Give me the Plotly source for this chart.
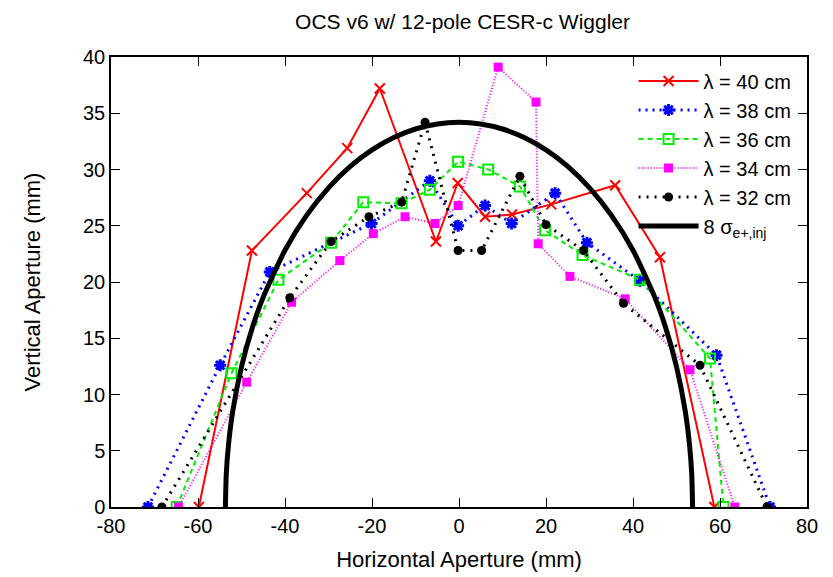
import plotly.graph_objects as go

# ---- data ----
x40 = [-59.8, -47.6, -35.0, -25.7, -18.2, -5.3, -0.3, 6.0, 12.2, 21.2, 35.9, 46.2, 58.7]
y40 = [0.0, 22.8, 27.9, 31.9, 37.2, 23.6, 28.8, 25.8, 26.0, 26.9, 28.6, 22.2, 0.0]

x38 = [-71.5, -54.9, -43.5, -20.1, -6.7, -0.2, 6.0, 12.1, 22.1, 29.4, 41.6, 59.2, 71.5]
y38 = [0.0, 12.6, 20.9, 25.2, 29.0, 25.0, 26.8, 25.2, 27.9, 23.5, 20.1, 13.5, 0.0]

x36 = [-64.9, -52.3, -41.5, -29.4, -22.0, -13.2, -6.7, -0.2, 6.7, 14.0, 19.8, 28.4, 41.6, 57.7, 60.8]
y36 = [0.0, 11.9, 20.2, 23.5, 27.1, 27.0, 28.2, 30.7, 30.0, 28.5, 24.6, 22.4, 20.2, 13.2, 0.0]

x34 = [-64.5, -48.8, -38.5, -27.4, -19.7, -12.4, -5.5, -0.2, 9.0, 17.7, 18.2, 25.5, 38.2, 53.1, 63.4]
y34 = [0.0, 11.1, 18.2, 21.9, 24.3, 25.8, 25.2, 26.8, 39.1, 36.0, 23.4, 20.5, 18.5, 12.2, 0.0]

x32 = [-68.3, -38.9, -29.4, -20.7, -13.2, -7.8, -0.2, 5.2, 14.0, 20.0, 28.6, 37.8, 55.4, 70.8]
y32 = [0.0, 18.6, 23.6, 25.8, 27.1, 34.2, 22.8, 22.8, 29.4, 25.1, 22.8, 18.1, 12.6, 0.0]

# 8 sigma injected beam envelope
xs = [-53.7, -53.5, -53.0, -52.0, -50.0, -47.5, -45.0, -40.0, -35.0, -30.0, -25.0, -20.0,
      -15.0, -10.0, -5.0, 0.0, 5.0, 10.0, 15.0, 20.0, 25.0, 30.0, 35.0, 40.0, 45.0, 47.5,
      50.0, 52.0, 53.0, 53.5, 53.7]
ys = [0.0, 2.95, 5.5, 8.54, 12.47, 15.95, 18.66, 22.82, 25.94, 28.37, 30.27, 31.74,
      32.84, 33.60, 34.05, 34.2, 34.05, 33.60, 32.84, 31.74, 30.27, 28.37, 25.94, 22.82,
      18.66, 15.95, 12.47, 8.54, 5.5, 2.95, 0.0]

x_ticks = [-80, -60, -40, -20, 0, 20, 40, 60, 80]
y_ticks = [0, 5, 10, 15, 20, 25, 30, 35, 40]

names = ["λ = 40 cm", "λ = 38 cm", "λ = 36 cm", "λ = 34 cm", "λ = 32 cm",
         "8 σ<sub>e+,inj</sub>"]

fig = go.Figure()

fig.add_trace(go.Scatter(
    x=x40, y=y40, name=names[0], mode="lines+markers",
    line=dict(color="#ff0000", width=2),
    marker=dict(symbol="x-thin-open", size=10, color="#ff0000",
                line=dict(color="#ff0000", width=2))))
fig.add_trace(go.Scatter(
    x=x38, y=y38, name=names[1], mode="lines+markers",
    line=dict(color="#0000ff", width=3, dash="2px,5px"),
    marker=dict(symbol="asterisk-open", size=10, color="#0000ff",
                line=dict(color="#0000ff", width=3))))
fig.add_trace(go.Scatter(
    x=x36, y=y36, name=names[2], mode="lines+markers",
    line=dict(color="#00ee00", width=2, dash="5px,4px"),
    marker=dict(symbol="square-open", size=10, color="#00ee00",
                line=dict(color="#00ee00", width=2))))
fig.add_trace(go.Scatter(
    x=x34, y=y34, name=names[3], mode="lines+markers",
    line=dict(color="#ff00ff", width=2, dash="1px,2px"),
    marker=dict(symbol="square", size=9, color="#ff00ff")))
fig.add_trace(go.Scatter(
    x=x32, y=y32, name=names[4], mode="lines+markers",
    line=dict(color="#000000", width=3, dash="2px,6px"),
    marker=dict(symbol="circle", size=9, color="#000000")))
fig.add_trace(go.Scatter(
    x=xs, y=ys, name=names[5], mode="lines",
    line=dict(color="#000000", width=5, shape="spline", smoothing=0.6)))

font_family = "Liberation Sans, Arial, Helvetica, sans-serif"

axis_common = dict(
    showline=True, linecolor="black", linewidth=1.5, mirror="allticks",
    ticks="inside", ticklen=9, tickwidth=1, tickcolor="black",
    showgrid=False, zeroline=False, automargin=False,
    tickfont=dict(size=20, color="black", family=font_family),
)

fig.update_layout(
    width=825, height=569,
    margin=dict(l=103, r=26, t=49, b=70),
    paper_bgcolor="white", plot_bgcolor="white",
    title=dict(text="OCS v6 w/ 12-pole CESR-c Wiggler", x=0.551, xanchor="center",
               y=0.976, yanchor="middle",
               font=dict(size=21, color="black", family=font_family)),
    xaxis=dict(range=[-80, 80], tickvals=x_ticks, ticktext=[str(v) for v in x_ticks],
               title=dict(text="Horizontal Aperture (mm)", standoff=16,
                          font=dict(size=22, color="black", family=font_family)),
               **axis_common),
    yaxis=dict(range=[0, 40], tickvals=y_ticks, ticktext=[str(v) for v in y_ticks],
               title=dict(text="Vertical Aperture (mm)", standoff=36,
                          font=dict(size=22, color="black", family=font_family)),
               **axis_common),
    legend=dict(x=0.985, xanchor="right", y=0.99, yanchor="top",
                bgcolor="rgba(0,0,0,0)", borderwidth=0,
                font=dict(size=20, color="black", family=font_family),
                itemwidth=60, tracegroupgap=0),
    showlegend=True,
)

fig.write_html("out.html")
